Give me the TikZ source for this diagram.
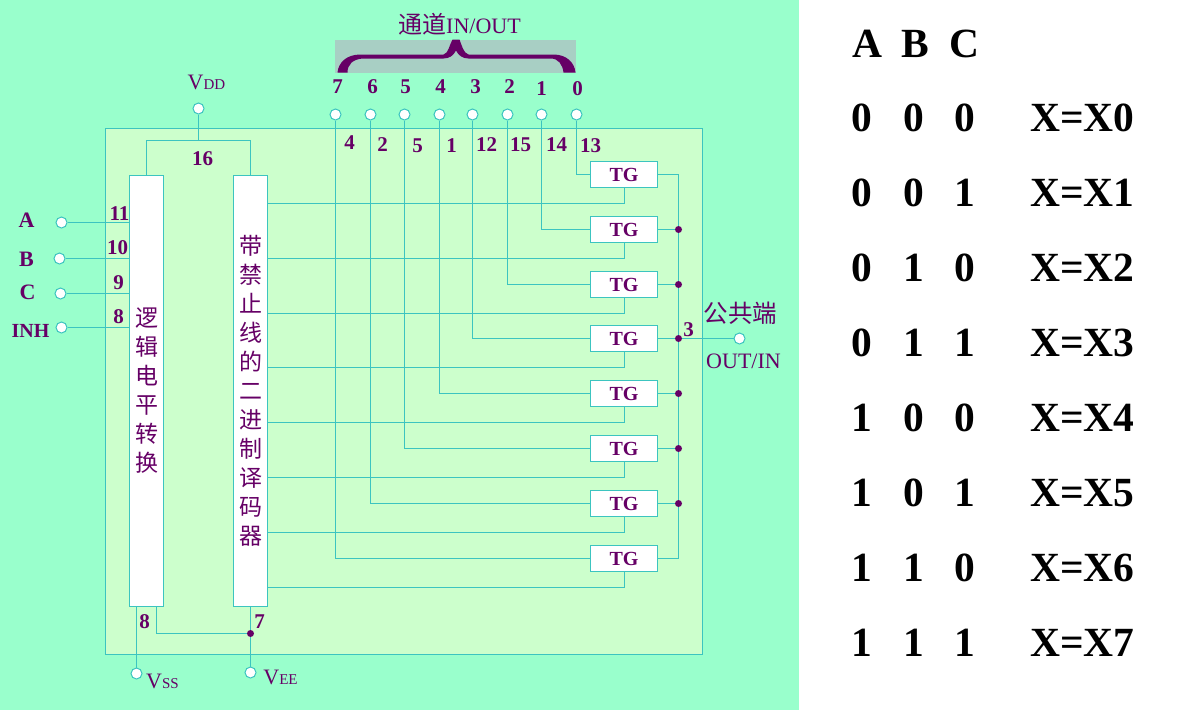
\documentclass[tikz,border=0pt]{standalone}
\usepackage{fontspec}
\setmainfont{Liberation Serif}
\newfontfamily\cjk{Noto Sans CJK SC}
\usetikzlibrary{positioning}
\definecolor{mint}{HTML}{99FFCC}
\definecolor{pale}{HTML}{CCFFCC}
\definecolor{wire}{HTML}{3CC4C0}
\definecolor{ink}{HTML}{660066}
\definecolor{band}{HTML}{A8CFC4}
\tikzset{
    wiring/.style={draw=wire, line width=1pt},
    terminal/.style={circle, draw=wire, fill=white, line width=1pt, minimum size=11pt, inner sep=0pt},
    junction/.style={circle, fill=ink, minimum size=7pt, inner sep=0pt},
    tgbox/.style={draw=wire, fill=white, line width=1pt, minimum width=67pt, minimum height=26pt,
                  inner sep=0pt, text=ink, font=\bfseries\fontsize{20}{20}\selectfont},
    chipbox/.style={draw=wire, fill=white, line width=1pt, minimum width=34pt, minimum height=431pt,
                    inner sep=0pt, text=ink, align=center, font=\cjk\fontsize{23}{29}\selectfont},
    pinlabel/.style={text=ink, inner sep=0pt, font=\bfseries\fontsize{21}{21}\selectfont},
    namelabel/.style={text=ink, inner sep=0pt, font=\fontsize{22}{22}\selectfont},
    tablelabel/.style={text=black, inner sep=0pt, font=\bfseries\fontsize{41.5}{41.5}\selectfont},
}

\begin{document}
\begin{tikzpicture}[x=1pt, y=-1pt]

    \useasboundingbox (0,0) rectangle (1204,710);
    \fill [white] (0,0) rectangle (1204,710);
    \fill [mint] (0,0) rectangle (799,710);

    \begin{scope}[shift={(0.5,0.5)}]
    \draw [wiring, fill=pale] (105,128) rectangle (702,654);
    \fill [band] (334,39) rectangle (575,72);

    % brace over the channels
    \fill [ink] (337,72) .. controls (338,62) and (346,54) .. (360,54) -- (443,54)
        .. controls (448,53) and (449,44) .. (452,39) -- (459,39)
        .. controls (461,44) and (463,53) .. (468,54) -- (553,54)
        .. controls (566,54) and (574,62) .. (575,72) -- (563,72)
        .. controls (562,64) and (558,58) .. (550,58) -- (468,58)
        .. controls (462,58) and (458,55) .. (455.5,50)
        .. controls (453,55) and (449,58) .. (443,58) -- (362,58)
        .. controls (352,59) and (347,64) .. (347,72) -- cycle;

    \node (title) [namelabel] at (459,24) {{\cjk\fontsize{24}{24}\selectfont 通道}IN/OUT};

    \node (logic) [chipbox] at (146,390.5) {逻\\辑\\电\\平\\转\\换};
    \node (decoder) [chipbox] at (250,390.5) {带\\禁\\止\\线\\的\\二\\进\\制\\译\\码\\器};

    % power pins
    \node (vdd) [terminal] at (198,108) {};
    \node (vss) [terminal] at (136,673) {};
    \node (vee) [terminal] at (250,672) {};
    \node (tie) [junction] at (250,633) {};
    \coordinate (rail) at (198,140);
    \draw [wiring] (vdd) -- (rail);
    \draw [wiring] (logic.north) |- (rail) -| (decoder.north);
    \draw [wiring] (decoder.south) -- (tie) -- (vee);
    \draw [wiring] ([xshift=-10pt]logic.south) -- (vss);
    \draw [wiring] ([xshift=10pt]logic.south) |- (tie);

    % inputs
    \node (inA) [terminal] at (61,222) {};
    \node (inB) [terminal] at (59,258) {};
    \node (inC) [terminal] at (60,293) {};
    \node (inH) [terminal] at (61,327) {};
    \draw [wiring] (inA) -- (inA -| logic.west);
    \draw [wiring] (inB) -- (inB -| logic.west);
    \draw [wiring] (inC) -- (inC -| logic.west);
    \draw [wiring] (inH) -- (inH -| logic.west);

    % bus on the right
    \coordinate (bustop) at (678,174);
    \coordinate (busbot) at (678,558);
    \draw [wiring] (bustop) -- (busbot);

    % switches, one per channel
    \foreach \n/\xx/\yy/\cx/\cy/\pin/\px/\py in {
        0/576/174/577/88/13/590/145,
        1/541/229/541/88/14/556/144,
        2/507/284/509/86/15/520/144,
        3/472/338/475/86/12/486/144,
        4/439/393/440/86/1/451/145,
        5/404/448/405/86/5/417/145,
        6/370/503/372/86/2/382/144,
        7/335/558/337/86/4/349/142} {
        \node (chan\n) [terminal] at (\xx,114) {};
        \node (name\n) [pinlabel] at (\cx,\cy) {\n};
        \node (pin\n) [pinlabel] at (\px,\py) {\pin};
        \node (tg\n) [tgbox] at (623.5,\yy) {TG};
        \draw [wiring] (chan\n) |- (tg\n.west);
        \draw [wiring] ([yshift=-15pt]tg\n.south -| decoder.east) -| (tg\n.south);
        \draw [wiring] (tg\n.east) -- (tg\n.east -| bustop);
    }
    \foreach \n in {1,2,3,4,5,6} {
        \node (dot\n) [junction] at (tg\n.east -| bustop) {};
    }

    \node (out) [terminal] at (739,338) {};
    \draw [wiring] (dot3) -- (out);

    % labels
    \node (labA) [namelabel] at (26,220) {\textbf{A}};
    \node (labB) [namelabel] at (26,259) {\textbf{B}};
    \node (labC) [namelabel] at (27,292) {\textbf{C}};
    \node (labH) [namelabel, font=\bfseries\fontsize{20}{20}\selectfont] at (30,330) {INH};
    \node (pinA) [pinlabel] at (119,213) {11};
    \node (pinB) [pinlabel] at (117,247) {10};
    \node (pinC) [pinlabel] at (118,282) {9};
    \node (pinH) [pinlabel] at (118,316) {8};
    \node (pinvdd) [pinlabel] at (202,158) {16};
    \node (pinvss) [pinlabel] at (144,621) {8};
    \node (pinvee) [pinlabel] at (259,621) {7};
    \node (pinout) [pinlabel] at (688,329) {3};
    \node (labvdd) [namelabel] at (206,82) {V{\fontsize{15}{15}\selectfont DD}};
    \node (labvss) [namelabel] at (162,681) {V{\fontsize{15}{15}\selectfont SS}};
    \node (labvee) [namelabel] at (280,677) {V{\fontsize{15}{15}\selectfont EE}};
    \node (labcommon) [namelabel] at (740,313) {\cjk\fontsize{24.5}{24.5}\selectfont 公共端};
    \node (labout) [namelabel] at (743,361) {OUT/IN};
    \end{scope}

    % truth table
    \node (headA) [tablelabel] at (867,44) {A};
    \node (headB) [tablelabel] at (915,44) {B};
    \node (headC) [tablelabel] at (964,44) {C};
    \foreach \n/\yy/\a/\b/\c in {0/118/0/0/0, 1/193/0/0/1, 2/268/0/1/0, 3/343/0/1/1,
                                 4/418/1/0/0, 5/493/1/0/1, 6/568/1/1/0, 7/643/1/1/1} {
        \node (rowA\n) [tablelabel] at (862,\yy) {\a};
        \node (rowB\n) [tablelabel] at (914,\yy) {\b};
        \node (rowC\n) [tablelabel] at (965,\yy) {\c};
        \node (rowX\n) [tablelabel, anchor=west] at (1030,\yy) {X=X\n};
    }

\end{tikzpicture}
\end{document}
